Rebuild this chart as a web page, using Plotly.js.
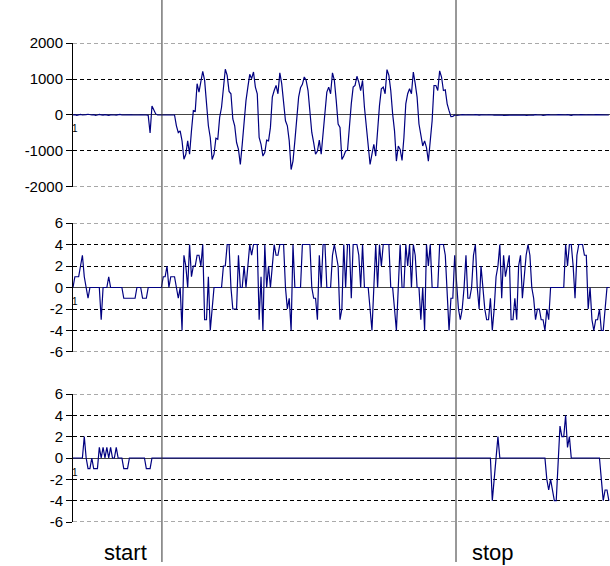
<!DOCTYPE html>
<html>
<head>
<meta charset="utf-8">
<script src="https://cdn.plot.ly/plotly-3.0.1.min.js"></script>
<style>html,body{margin:0;padding:0;background:#fff;}#chart{width:610px;height:566px;}</style>
</head>
<body>
<div id="chart"></div>
<script>
// ---- data (one sample per step) ----
const seriesTop = [
  0,10,-10,5,15,0,-5,10,20,5,
  0,10,-10,0,15,5,-5,10,0,-10,
  5,10,0,-5,10,15,0,5,-10,0,
  10,5,0,-5,10,0,5,10,-5,0,
  -10,-500,250,150,30,0,0,0,0,0,
  0,0,0,0,0,-300,-490,-440,-720,-1230,
  -1090,-720,-1090,-440,120,100,870,635,915,1215,
  960,400,-300,-625,-1235,-1090,-645,-675,-65,215,
  870,1270,1100,655,590,-110,-300,-765,-955,-1375,
  -815,-160,400,775,1130,1010,1195,775,590,-625,
  -815,-1140,-1045,-700,-720,-345,495,680,820,590,
  1170,870,400,-160,-300,-720,-1515,-1280,-720,30,
  495,755,850,1055,960,680,30,-485,-765,-1090,
  -1000,-700,-1090,-535,120,635,775,590,1170,960,
  400,-250,-345,-1235,-1140,-1000,-980,-250,310,775,
  820,1075,915,680,960,215,-345,-955,-1375,-1090,
  -815,-1140,-345,260,730,775,590,1260,1100,680,
  30,-440,-1280,-860,-955,-1260,-625,310,590,730,
  590,1195,870,495,-250,-625,-860,-720,-905,-1280,
  -625,-160,820,820,680,1225,1055,680,700,310,
  120,-45,-40,0,-10,-15,0,10,-5,0,
  5,0,-10,0,10,0,-5,5,0,-10,
  0,5,10,0,-5,0,10,5,0,-10,
  -5,0,5,0,10,0,-5,0,5,10,
  0,-10,0,5,0,-5,10,0,5,0,
  -10,0,5,10,0,-5,0,0,10,5,
  0,-5,0,10,0,-10,5,0,5,0,
  10,0,-5,0,5,0,-10,0,10,5,
  0,-5,0,5,0,0
];
const seriesMiddle = [
  0,1,1,1,2,3,1,0,-1,0,
  0,0,0,0,0,-3,0,0,0,1,
  0,0,0,0,0,0,0,-1,-1,-1,
  -1,-1,-1,-1,0,0,0,-1,-1,-1,
  0,0,0,0,0,0,0,0,1,1,
  2,0,1,1,1,0,-1,0,-4,3,
  2,0,4,1,2,2,3,3,2,4,
  -3,-3,1,-4,-2,0,0,0,0,0,
  2,2,4,4,0,-2,-2,-2,3,0,
  0,2,0,2,4,3,4,4,4,-3,
  1,-4,4,0,2,0,2,4,3,3,
  4,4,4,0,-2,-1,-4,4,0,0,
  0,0,4,4,4,4,4,0,-1,-1,
  -3,3,0,4,4,0,0,0,3,4,
  3,2,-3,-2,4,0,4,4,-1,4,
  4,4,3,0,4,0,0,0,-2,-4,
  0,4,0,4,2,4,4,4,4,0,
  0,-2,-4,0,4,0,0,4,2,4,
  0,4,3,0,0,-3,0,-4,4,2,
  4,0,0,0,0,4,4,4,3,0,
  -4,-1,-1,3,0,-2,-3,-2,0,3,
  -1,-1,0,3,4,0,-2,2,0,-2,
  -3,-3,-1,-4,-2,1,2,4,-1,3,
  1,2,3,-3,-3,-1,-3,2,3,-1,
  1,3,4,3,0,-1,-3,-2,-2,-3,
  -3,-4,-2,-3,0,0,0,0,0,0,
  0,0,4,2,4,4,2,-1,3,4,
  4,4,3,3,-2,0,-3,-4,-3,-3,
  -2,-4,-4,-2,0,0
];
const seriesBottom = [
  0,0,0,0,0,0,2,0,-1,-1,
  0,-1,-1,-1,1,0,1,0,1,0,
  1,0,0,1,0,0,0,-1,-1,-1,
  0,0,0,0,0,0,0,0,0,-1,
  -1,-1,0,0,0,0,0,0,0,0,
  0,0,0,0,0,0,0,0,0,0,
  0,0,0,0,0,0,0,0,0,0,
  0,0,0,0,0,0,0,0,0,0,
  0,0,0,0,0,0,0,0,0,0,
  0,0,0,0,0,0,0,0,0,0,
  0,0,0,0,0,0,0,0,0,0,
  0,0,0,0,0,0,0,0,0,0,
  0,0,0,0,0,0,0,0,0,0,
  0,0,0,0,0,0,0,0,0,0,
  0,0,0,0,0,0,0,0,0,0,
  0,0,0,0,0,0,0,0,0,0,
  0,0,0,0,0,0,0,0,0,0,
  0,0,0,0,0,0,0,0,0,0,
  0,0,0,0,0,0,0,0,0,0,
  0,0,0,0,0,0,0,0,0,0,
  0,0,0,0,0,0,0,0,0,0,
  0,0,0,0,0,0,0,0,0,0,
  0,0,0,-4,-2,0,2,0,0,0,
  0,0,0,0,0,0,0,0,0,0,
  0,0,0,0,0,0,0,0,0,0,
  0,0,-2,-3,-2,-3,-4,-4,0,3,
  2,2,4,1,2,0,0,0,0,0,
  0,0,0,0,0,0,0,0,0,0,
  0,-2,-4,-3,-3,-4
];
const eventNames = ['start', 'stop'];
const eventSamples = [47.3, 203.7];      // sample index where each event line sits
const eventLabelSamples = [27.7, 223.6]; // where the category labels sit
const topTicks = [-2000, -1000, 0, 1000, 2000];
const smallTicks = [-6, -4, -2, 0, 2, 4, 6];

// ---- chart ----
const idx = seriesTop.map((_, i) => i);
const lineStyle = {color: '#000080', width: 1.2};
const traces = [
  {x: idx, y: seriesTop, xaxis: 'x', yaxis: 'y', type: 'scatter', mode: 'lines', line: lineStyle, hoverinfo: 'skip'},
  {x: idx, y: seriesMiddle, xaxis: 'x', yaxis: 'y2', type: 'scatter', mode: 'lines', line: lineStyle, hoverinfo: 'skip'},
  {x: idx, y: seriesBottom, xaxis: 'x', yaxis: 'y3', type: 'scatter', mode: 'lines', line: lineStyle, hoverinfo: 'skip'}
];

const gridDash = '4px,3px';
function yAx(domain, ticks) {
  return {
    domain: domain, range: [ticks[0], ticks[ticks.length - 1]], anchor: 'x',
    tickmode: 'array', tickvals: ticks, ticktext: ticks.map(String),
    showgrid: true, gridcolor: '#000000', griddash: gridDash, gridwidth: 1,
    zeroline: true, zerolinecolor: '#444444', zerolinewidth: 1,
    showline: true, linecolor: '#000000', linewidth: 1,
    ticks: 'outside', ticklen: 6, tickcolor: '#000000', tickwidth: 1,
    tickfont: {size: 15, color: '#000000'}, fixedrange: true
  };
}

const shapes = [];
// edge grid lines (Plotly leaves out the grid line at each end of the range)
[['y', topTicks], ['y2', smallTicks], ['y3', smallTicks]].forEach(([ax, t]) => {
  [t[0], t[t.length - 1]].forEach(v => shapes.push({
    type: 'line', xref: 'paper', yref: ax, x0: 0, x1: 1, y0: v, y1: v,
    line: {color: '#555555', width: 1, dash: gridDash}, layer: 'below'
  }));
});
eventSamples.forEach(p => shapes.push({
  type: 'line', xref: 'x', yref: 'paper', x0: p, x1: p, y0: -0.0835, y1: 1.1,
  line: {color: '#333333', width: 1}, layer: 'above'
}));

const annotations = eventNames.map((t, k) => ({
  text: t, xref: 'x', yref: 'paper', x: eventLabelSamples[k], y: -0.064,
  showarrow: false, xanchor: 'center', yanchor: 'middle',
  font: {size: 22, color: '#000000'}
}));
['y', 'y2', 'y3'].forEach(ax => annotations.push({
  text: '1', xref: 'paper', yref: ax, x: 0.003, y: 0, yshift: -14,
  showarrow: false, xanchor: 'center', yanchor: 'middle',
  font: {size: 10, color: '#000000'}
}));

const layout = {
  width: 610, height: 566,
  margin: {l: 73, r: 0, t: 43, b: 44, pad: 0},
  paper_bgcolor: '#ffffff', plot_bgcolor: '#ffffff',
  showlegend: false,
  font: {family: '"Liberation Sans", Arial, sans-serif', size: 15, color: '#000000'},
  xaxis: {range: [0, 285.6], showgrid: false, zeroline: false, showticklabels: false,
          ticks: '', showline: false, anchor: 'y3', fixedrange: true},
  yaxis: yAx([0.6994, 1.0], topTicks),
  yaxis2: yAx([0.3549, 0.6242], smallTicks),
  yaxis3: yAx([0.0, 0.2672], smallTicks),
  shapes: shapes,
  annotations: annotations
};

Plotly.newPlot('chart', traces, layout, {staticPlot: true, displayModeBar: false});
</script>
</body>
</html>
